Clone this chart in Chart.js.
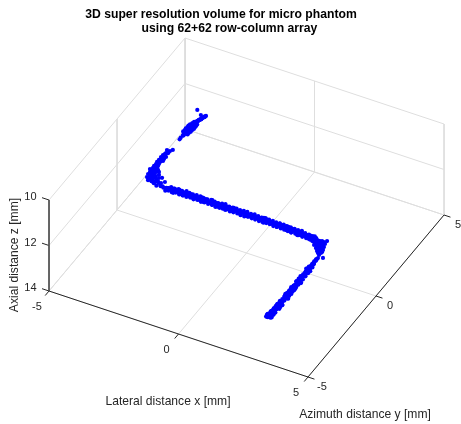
<!DOCTYPE html>
<html>
<head>
<meta charset="utf-8">
<title>3D super resolution volume</title>
<script src="https://cdn.jsdelivr.net/npm/chart.js@4"></script>
<style>
  html, body { margin: 0; padding: 0; background: #fff; }
  canvas { display: block; }
</style>
</head>
<body>
<canvas id="volumeChart" width="461" height="424"></canvas>
<script>
const xTicks = [-5, 0, 5];
const yTicks = [-5, 0, 5];
const zTicks = [10, 12, 14];

// microbubble localisations in mm, one group per stretch of the tube
const tipX = [-4.00,-4.02,-3.98,-4.03,-3.95,-4.05,-3.99,-4.07,-3.94,-4.04,-4.00,-3.93,-4.08,-3.97,-4.05,-3.95,-4.02,-3.92,-4.06,-4.00,-3.96,-4.03,-3.98,-4.04,-3.97,-4.01,-3.98,-4.00,-3.98,-4.00,-4.00,-4.00,
  -4.00,-4.01,-3.99,-4.00,-4.02,-3.99,-4.01,-4.00,-3.98,-4.00,-4.01,-3.99,-4.00,-4.02,-3.99,-4.00,-4.01,-3.99,-4.00,-4.01,-3.99,-4.00,-4.01,-4.00,-3.99,-4.00,-4.01,-4.00,-3.99,-4.00,
  -3.90,-4.10,-3.91,-4.09,-3.89,-4.11,-3.90,-4.10,-3.88,-4.09,-3.90,-4.11,-3.91,-4.08,-3.92,-4.07];
const tipY = [2.70,2.82,2.95,3.05,3.12,3.18,3.24,3.28,3.33,3.37,3.42,3.46,3.50,3.54,3.58,3.62,3.66,3.70,3.75,3.80,3.85,3.90,3.96,4.02,4.08,4.16,4.26,4.38,4.50,4.64,4.00,4.26,
  2.95,3.01,3.06,3.12,3.17,3.23,3.28,3.34,3.39,3.45,3.50,3.56,3.61,3.67,3.72,3.78,3.83,3.89,3.94,4.00,4.05,4.11,4.16,4.22,4.27,4.33,4.38,4.44,4.49,4.55,
  3.10,3.15,3.20,3.26,3.31,3.36,3.42,3.47,3.52,3.58,3.63,3.68,3.74,3.79,3.84,3.90];
const tipZ = [12.44,12.46,12.44,12.49,12.43,12.52,12.45,12.50,12.42,12.55,12.47,12.52,12.43,12.56,12.50,12.45,12.58,12.48,12.54,12.60,12.50,12.58,12.52,12.62,12.57,12.62,12.66,12.70,12.74,12.79,12.07,12.48,
  12.45,12.46,12.45,12.47,12.46,12.48,12.47,12.49,12.48,12.50,12.50,12.51,12.51,12.53,12.52,12.55,12.54,12.56,12.56,12.58,12.59,12.60,12.62,12.63,12.66,12.67,12.69,12.70,12.73,12.74,
  12.47,12.45,12.48,12.46,12.50,12.47,12.51,12.49,12.52,12.50,12.54,12.52,12.56,12.53,12.57,12.55];

const bendX = [-4,-4,-4,-4,-4,-4,-4,-4,-4,-4,-4,-4,-4,-4,-4,-4,-4,-4,-4,-4,-4,-4,-4,-4,-4,-4,-4,-4,-4,-4,-4,-4,-3.80,-3.61,-3.69,-3.49,-3.57,-3.42,-3.46,-3.34,-3.34,-3.22,-3.22,-3.11,-3.11,-3.65,
  -4,-4,-4,-4,-4,-4,-4,-4,-4,-4,-4,-4,-4,-4,-4,-4,-4,-4,-4,-4,-4,-4,-3.26,-3.15,-3.42,-3.30,-3.53,-3.38,-3.49,-3.61,-3.65,-3.73];
const bendY = [2.20,1.99,1.85,1.70,1.48,1.63,1.33,1.55,1.18,1.33,1.04,0.96,1.18,0.82,1.04,0.74,0.89,0.60,1.11,0.74,0.52,0.96,0.67,0.38,0.82,0.52,0.30,0.67,0.45,0.89,0.60,0.38,0.02,-0.03,0.04,0.00,-0.02,0.03,-0.04,0.01,0.05,-0.03,0.02,0.00,-0.05,0.03,
  0.52,0.74,0.96,1.18,0.52,0.89,1.11,1.26,1.40,1.63,1.85,1.77,1.48,1.70,0.96,1.18,0.74,0.60,0.85,1.00,1.35,1.60,0,0,0,0,0,0,0,0,0,0];
const bendZ = [12.55,12.45,12.39,12.33,12.26,12.41,12.24,12.48,12.26,12.41,12.25,12.29,12.44,12.27,12.47,12.30,12.45,12.29,12.65,12.44,12.32,12.64,12.47,12.31,12.62,12.45,12.39,12.61,12.54,12.80,12.69,12.58,12.23,12.15,12.27,12.15,12.27,12.22,12.32,12.27,12.36,12.27,12.36,12.32,12.40,12.04,
  12.50,12.61,12.81,12.92,12.19,12.32,12.48,12.41,12.33,12.32,12.44,12.25,12.52,12.50,12.51,12.79,12.40,12.42,12.38,12.36,12.32,12.33,11.93,12.07,12.13,12.17,12.21,11.98,12.07,12.07,12.21,12.16];

const runX = [-3.05,-3.00,-2.96,-2.91,-2.85,-2.80,-2.76,-2.70,-2.65,-2.60,-2.56,-2.50,-2.45,-2.41,-2.35,-2.30,-2.26,-2.20,-2.15,-2.10,-2.04,-2.00,-1.95,-1.89,-1.85,-1.80,-1.74,-1.70,-1.65,-1.60,-1.54,-1.50,-1.45,-1.41,-1.35,-1.30,-1.24,-1.20,-1.15,-1.09,-1.05,-1.00,-0.96,-0.90,-0.85,-0.80,-0.74,-0.70,-0.65,-0.59,-0.55,-0.50,-0.46,-0.40,-0.35,-0.30,-0.24,-0.20,-0.15,-0.09,-0.05,0.00,0.06,0.10,0.15,0.21,0.25,0.30,0.34,0.40,0.45,0.50,0.56,0.60,0.65,0.69,0.75,0.80,0.86,0.90,0.95,1.00,1.06,1.10,1.15,1.19,1.25,1.30,1.36,1.40,1.45,1.50,1.56,1.60,1.65,1.71,1.75,1.80,1.84,1.90,1.95,2.00,2.06,2.10,2.15,2.20,2.26,2.30,2.35,2.41,2.45,2.50,2.55,2.60,2.66,2.70,2.75,2.80,2.84,2.90];
const runY = [0.03,-0.05,0.06,-0.02,0.07,-0.06,0.01,0.05,-0.07,0.03,-0.03,0.06,0.00,-0.06,0.07,-0.02,0.04,-0.05,0.02,0.06,-0.07,0.03,0.05,-0.04,0.00,0.07,-0.06,0.02,-0.03,0.06,0.01,-0.07,0.04,-0.01,0.06,-0.05,0.03,0.07,-0.04,0.00,0.05,-0.06,0.02,-0.02,0.07,-0.05,0.04,0.00,-0.07,0.05,-0.01,0.03,0.06,-0.05,0.02,-0.03,0.07,-0.06,0.01,0.04,-0.04,0.06,-0.07,0.02,0.00,0.05,-0.05,0.07,-0.02,0.03,-0.06,0.01,0.06,-0.03,0.04,-0.07,0.05,0.00,-0.04,0.07,-0.01,0.03,-0.06,0.05,0.02,-0.05,0.06,-0.02,0.04,-0.07,0.01,0.07,-0.04,0.03,-0.01,0.05,-0.06,0.02,0.06,-0.03,0.00,-0.07,0.04,0.07,-0.05,0.01,0.03,-0.02,0.06,-0.06,0.04,0.00,-0.04,0.07,-0.03,0.02,0.05,-0.07,0.01,0.04];
const runZ = [12.32,12.26,12.35,12.24,12.30,12.37,12.25,12.33,12.28,12.23,12.36,12.30,12.26,12.34,12.22,12.31,12.37,12.27,12.24,12.33,12.29,12.37,12.23,12.31,12.35,12.26,12.30,12.22,12.36,12.28,12.33,12.25,12.37,12.30,12.23,12.34,12.27,12.31,12.37,12.24,12.29,12.35,12.26,12.32,12.22,12.37,12.28,12.33,12.25,12.30,12.36,12.23,12.31,12.27,12.35,12.24,12.32,12.37,12.26,12.29,12.34,12.23,12.31,12.36,12.26,12.30,12.24,12.35,12.28,12.33,12.25,12.37,12.29,12.32,12.24,12.36,12.27,12.31,12.25,12.35,12.30,12.38,12.26,12.33,12.29,12.37,12.27,12.32,12.39,12.28,12.34,12.30,12.38,12.27,12.35,12.31,12.40,12.29,12.34,12.37,12.30,12.41,12.33,12.28,12.38,12.35,12.43,12.31,12.37,12.41,12.34,12.45,12.38,12.33,12.43,12.40,12.47,12.36,12.42,12.46];

const coreX = [-3.10,-3.03,-2.96,-2.89,-2.82,-2.75,-2.68,-2.61,-2.54,-2.47,-2.40,-2.33,-2.26,-2.19,-2.12,-2.05,-1.98,-1.91,-1.84,-1.77,-1.70,-1.63,-1.56,-1.49,-1.42,-1.35,-1.28,-1.21,-1.14,-1.07,-1.00,-0.93,-0.86,-0.79,-0.72,-0.65,-0.58,-0.51,-0.44,-0.37,-0.30,-0.23,-0.16,-0.09,-0.02,0.05,0.12,0.19,0.26,0.33,0.40,0.47,0.54,0.61,0.68,0.75,0.82,0.89,0.96,1.03,1.10,1.17,1.24,1.31,1.38,1.45,1.52,1.59,1.66,1.73,1.80,1.87,1.94,2.01,2.08,2.15,2.22,2.29,2.36,2.43,2.50,2.57,2.64,2.71,2.78,2.85];
const coreY = [0.01,-0.01,0.00,0.02,-0.01,0.00,0.01,-0.02,0.00,0.01,0.02,-0.01,0.00,-0.02,0.01,0.00,0.02,-0.01,0.01,0.00,-0.02,0.01,0.00,0.01,-0.01,0.02,0.00,-0.01,0.01,0.00,-0.02,0.01,0.02,0.00,-0.01,0.01,0.00,-0.02,0.01,0.00,0.02,-0.01,0.00,0.01,-0.01,0.00,0.02,-0.02,0.01,0.00,-0.01,0.01,0.02,0.00,-0.01,0.00,0.01,-0.02,0.00,0.01,0.02,-0.01,0.00,0.01,-0.02,0.00,0.01,0.00,-0.01,0.02,0.00,0.01,-0.02,0.00,0.01,-0.01,0.00,0.02,0.00,-0.01,0.01,0.00,-0.02,0.01,0.00,0.01];
const coreZ = [12.31,12.29,12.30,12.32,12.30,12.28,12.31,12.30,12.29,12.32,12.30,12.31,12.28,12.30,12.32,12.29,12.30,12.31,12.29,12.32,12.30,12.28,12.31,12.30,12.32,12.29,12.30,12.31,12.28,12.30,12.32,12.30,12.29,12.31,12.30,12.28,12.32,12.30,12.31,12.29,12.30,12.32,12.28,12.30,12.31,12.29,12.30,12.32,12.30,12.28,12.31,12.30,12.29,12.32,12.30,12.31,12.29,12.30,12.32,12.30,12.31,12.29,12.32,12.31,12.30,12.33,12.31,12.32,12.34,12.32,12.33,12.35,12.33,12.34,12.36,12.35,12.37,12.36,12.38,12.40,12.39,12.41,12.43,12.42,12.45,12.46];

const edgeX = [-3.00,-2.93,-2.86,-2.79,-2.72,-2.65,-2.58,-2.51,-2.44,-2.37,-2.30,-2.23,-2.16,-2.09,-2.02,-1.95,-1.88,-1.81,-1.74,-1.67,-1.60,-1.53,-1.46,-1.39,-1.32,-1.25,-1.18,-1.11,-1.04,-0.97,-0.90,-0.83,-0.76,-0.69,-0.62,-0.55,-0.48,-0.41,-0.34,-0.27,-0.20,-0.13,-0.06,0.01,0.08,0.15,0.22,0.29,0.36,0.43,0.50,0.57,0.64,0.71,0.78,0.85,0.92,0.99,1.06,1.13,1.20,1.27,1.34,1.41,1.48,1.55,1.62,1.69,1.76,1.83,1.90,1.97,2.04,2.11,2.18,2.25,2.32,2.39,2.46,2.53,2.60,2.67,2.74];
const edgeY = [-0.04,0.04,-0.05,0.03,-0.03,0.05,-0.04,0.04,-0.05,0.03,-0.04,0.05,-0.03,0.04,-0.05,0.04,-0.03,0.05,-0.04,0.03,-0.05,0.04,-0.04,0.05,-0.03,0.04,-0.05,0.03,-0.04,0.05,-0.03,0.04,-0.05,0.04,-0.04,0.03,-0.05,0.05,-0.03,0.04,-0.04,0.05,-0.05,0.03,-0.04,0.04,-0.03,0.05,-0.05,0.04,-0.04,0.03,-0.05,0.05,-0.03,0.04,-0.04,0.05,-0.05,0.03,-0.04,0.04,-0.03,0.05,-0.05,0.04,-0.04,0.03,-0.05,0.05,-0.03,0.04,-0.04,0.05,-0.05,0.03,-0.04,0.04,-0.03,0.05,-0.05,0.04,-0.04];
const edgeZ = [12.36,12.24,12.37,12.25,12.35,12.23,12.37,12.24,12.36,12.25,12.38,12.23,12.36,12.24,12.37,12.25,12.36,12.23,12.38,12.24,12.35,12.25,12.37,12.23,12.36,12.24,12.38,12.25,12.36,12.23,12.37,12.24,12.35,12.25,12.38,12.23,12.36,12.24,12.37,12.25,12.36,12.23,12.38,12.24,12.35,12.25,12.37,12.23,12.36,12.24,12.38,12.25,12.36,12.23,12.37,12.24,12.36,12.25,12.38,12.25,12.37,12.26,12.39,12.25,12.38,12.27,12.40,12.26,12.39,12.28,12.41,12.28,12.42,12.30,12.43,12.30,12.44,12.32,12.46,12.34,12.47,12.36,12.49];

const cornerX = [2.68,2.80,2.88,2.99,3.11,2.61,2.72,2.84,2.95,3.03,2.68,2.80,2.92,2.99,3,3,3,3,3,3,3,3,3,3,2.76,2.88,2.64,2.92,2.76,2.88,2.80,2.92,2.53,2.45];
const cornerY = [0,0,0,0,0,0,0,0,0,0,0,0,0,0,-0.53,-0.31,-0.09,-0.46,-0.24,-0.09,-0.38,-0.60,-0.75,-0.46,0,0,0,0,0,0,0,0,0,0];
const cornerZ = [12.51,12.41,12.47,12.39,12.30,12.66,12.66,12.62,12.53,12.46,12.77,12.76,12.68,12.61,12.40,12.56,12.67,12.54,12.69,13.02,12.68,12.75,12.77,12.76,12.56,12.56,12.56,12.37,12.69,12.69,12.81,12.85,12.51,12.41];

const legX = [3.03,2.96,3.05,2.94,3.00,3.07,2.95,3.02,2.97,3.06,2.93,3.01,3.05,2.96,3.03,2.94,3.07,2.99,2.95,3.04,3.00,3.06,2.93,3.02,2.97,3.05,2.95,3.01,3.07,2.94,3.03,2.98,3.06,2.95,3.00,3.04,2.93,3.07,2.97,3.02,2.96,3.05,3.00,2.94,3.06,2.98,3.03,2.95,3.07,2.97,3.02,2.94,3.05,3.00,2.96,3.06,2.98,3.03,2.95,3.00,3.06,2.94,3.03,2.97,
  3.00,3.01,2.99,3.00,3.02,2.99,3.00,3.01,2.98,3.00,3.01,2.99,3.00,3.02,2.99,3.00,3.01,2.99,3.00,2.98,3.01,3.00,2.99,3.02,3.00,3.01,2.99,3.00,2.98,3.01,3.00,3.02,2.99,3.00,3.01,2.99,3.00,3.02,2.99,3.00,3.01,2.98,3.00,3.01,2.99,3.00,3.02,2.99,3.00,3.01,2.99,
  3.07,2.93,3.06,2.94,3.08,2.93,3.07,2.92,3.06,2.94,3.08,2.93,3.06,2.92,3.07,2.94,3.08,2.93,3.06,2.94,3.07,2.92,3.08,2.93,3.06,2.94,3.07,2.93,3.08,2.92,3.06,2.94,3.07,2.93,3.08,2.94,3.06,2.92,3.07,2.93];
const legY = [-0.60,-0.66,-0.71,-0.78,-0.83,-0.90,-0.95,-1.02,-1.07,-1.14,-1.19,-1.25,-1.31,-1.36,-1.43,-1.48,-1.55,-1.60,-1.66,-1.72,-1.78,-1.83,-1.90,-1.95,-2.02,-2.07,-2.14,-2.19,-2.25,-2.31,-2.37,-2.42,-2.49,-2.54,-2.61,-2.66,-2.72,-2.78,-2.84,-2.90,-2.95,-3.02,-3.07,-3.14,-3.19,-3.25,-3.31,-3.37,-3.43,-3.49,-3.55,-3.60,-3.67,-3.72,-3.79,-3.84,-3.90,-3.95,-4.02,-4.10,-3.98,-4.05,-3.92,-4.12,
  -0.60,-0.67,-0.74,-0.81,-0.88,-0.95,-1.02,-1.09,-1.16,-1.23,-1.30,-1.37,-1.44,-1.51,-1.58,-1.65,-1.72,-1.79,-1.86,-1.93,-2.00,-2.07,-2.14,-2.21,-2.28,-2.35,-2.42,-2.49,-2.56,-2.63,-2.70,-2.77,-2.84,-2.91,-2.98,-3.05,-3.12,-3.19,-3.26,-3.33,-3.40,-3.47,-3.54,-3.61,-3.68,-3.75,-3.82,-3.89,-3.96,-4.03,-4.10,
  -1.00,-1.08,-1.17,-1.25,-1.34,-1.42,-1.51,-1.59,-1.68,-1.76,-1.85,-1.93,-2.02,-2.10,-2.19,-2.27,-2.36,-2.44,-2.53,-2.61,-2.70,-2.78,-2.87,-2.95,-3.04,-3.12,-3.21,-3.29,-3.38,-3.46,-3.55,-3.63,-3.72,-3.80,-3.89,-3.97,-4.00,-4.06,-4.09,-4.14];
const legZ = [12.70,12.78,12.68,12.82,12.74,12.69,12.85,12.76,12.71,12.83,12.73,12.86,12.72,12.80,12.75,12.87,12.71,12.79,12.84,12.74,12.70,12.86,12.78,12.72,12.83,12.76,12.87,12.71,12.80,12.74,12.85,12.72,12.78,12.86,12.70,12.82,12.75,12.87,12.73,12.79,12.84,12.71,12.80,12.76,12.86,12.72,12.83,12.74,12.85,12.71,12.80,12.76,12.70,12.84,12.73,12.81,12.69,12.79,12.74,12.72,12.84,12.68,12.80,12.76,
  12.72,12.73,12.75,12.74,12.76,12.75,12.77,12.76,12.78,12.77,12.79,12.78,12.80,12.79,12.78,12.80,12.79,12.81,12.80,12.79,12.81,12.80,12.78,12.80,12.79,12.81,12.80,12.79,12.81,12.80,12.82,12.80,12.81,12.79,12.81,12.80,12.82,12.80,12.79,12.81,12.79,12.80,12.78,12.79,12.77,12.78,12.77,12.78,12.76,12.77,12.76,
  12.76,12.80,12.74,12.81,12.77,12.82,12.79,12.78,12.81,12.76,12.82,12.78,12.80,12.83,12.77,12.82,12.79,12.81,12.84,12.78,12.80,12.83,12.79,12.82,12.77,12.81,12.84,12.78,12.80,12.82,12.76,12.79,12.81,12.75,12.78,12.74,12.80,12.72,12.77,12.74];

// view of the box: where the z=14 floor corner lands and what one mm adds
const floorCorner = [49, 291];
const xStep = [25.9, 8.6];
const yStep = [13.6, -16.2];
const zStep = 22.75;

function project(x, y, z) {
  return {
    x: floorCorner[0] + (x + 5) * xStep[0] + (y + 5) * yStep[0],
    y: floorCorner[1] + (x + 5) * xStep[1] + (y + 5) * yStep[1] + (z - 14) * zStep
  };
}

function lineSet(a, b, color, width, order) {
  return {
    type: 'line',
    data: [project(...a), project(...b)],
    borderColor: color,
    borderWidth: width,
    pointRadius: 0,
    order: order
  };
}

const datasets = [];

// grid on the floor and the two back walls
const gridColor = '#dedede';
xTicks.forEach(x => {
  datasets.push(lineSet([x, -5, 14], [x, 5, 14], gridColor, 1, 3));
  datasets.push(lineSet([x, 5, 10], [x, 5, 14], gridColor, 1, 3));
});
yTicks.forEach(y => {
  datasets.push(lineSet([-5, y, 14], [5, y, 14], gridColor, 1, 3));
  datasets.push(lineSet([-5, y, 10], [-5, y, 14], gridColor, 1, 3));
});
zTicks.forEach(z => {
  datasets.push(lineSet([-5, 5, z], [5, 5, z], gridColor, 1, 3));
  datasets.push(lineSet([-5, -5, z], [-5, 5, z], gridColor, 1, 3));
});

// axis lines and their ticks
const axisColor = '#262626';
datasets.push(lineSet([-5, -5, 14], [5, -5, 14], axisColor, 1, 2));
datasets.push(lineSet([5, -5, 14], [5, 5, 14], axisColor, 1, 2));
datasets.push(lineSet([-5, -5, 10], [-5, -5, 14], '#555555', 1, 2));
xTicks.forEach(x => datasets.push(lineSet([x, -5, 14], [x, -5.28, 14], axisColor, 1, 2)));
yTicks.forEach(y => datasets.push(lineSet([5, y, 14], [5.25, y, 14], axisColor, 1, 2)));
zTicks.forEach(z => datasets.push(lineSet([-5, -5, z], [-5.27, -5, z], axisColor, 1, 2)));

const allX = [...tipX, ...bendX, ...runX, ...coreX, ...edgeX, ...cornerX, ...legX];
const allY = [...tipY, ...bendY, ...runY, ...coreY, ...edgeY, ...cornerY, ...legY];
const allZ = [...tipZ, ...bendZ, ...runZ, ...coreZ, ...edgeZ, ...cornerZ, ...legZ];

datasets.push({
  label: 'Localisations',
  data: allX.map((x, i) => project(x, allY[i], allZ[i])),
  backgroundColor: '#0000ff',
  borderWidth: 0,
  pointRadius: 2.1,
  order: 1
});

const textPlugin = {
  id: 'boxText',
  afterDraw(chart) {
    const ctx = chart.ctx;
    const sx = chart.scales.x;
    const sy = chart.scales.y;
    const put = (text, x, y, align) => {
      ctx.textAlign = align || 'center';
      ctx.fillText(text, x, y);
    };
    const tickPos = (p, dx, dy) => [sx.getPixelForValue(p.x) + dx, sy.getPixelForValue(p.y) + dy];

    ctx.save();
    ctx.textBaseline = 'middle';
    ctx.fillStyle = '#000';
    ctx.font = 'bold 12.2px "Liberation Sans"';
    put('3D super resolution volume for micro phantom', 221, 15);
    put('     using 62+62 row-column array', 221, 29);

    ctx.fillStyle = '#262626';
    ctx.font = '11px "Liberation Sans"';
    xTicks.forEach(x => {
      const [px, py] = tickPos(project(x, -5, 14), -12, 15.5);
      put(String(x), px, py);
    });
    yTicks.forEach(y => {
      const [px, py] = tickPos(project(5, y, 14), 14, 10);
      put(String(y), px, py);
    });
    zTicks.forEach(z => {
      const [px, py] = tickPos(project(-5, -5, z), -12.5, -3);
      put(String(z), px, py, 'right');
    });

    ctx.font = '12.1px "Liberation Sans"';
    put('Lateral distance x [mm]', 168, 402);
    put('Azimuth distance y [mm]', 365, 415);
    ctx.translate(15, 255);
    ctx.rotate(-Math.PI / 2);
    put('Axial distance z [mm]', 0, 0);
    ctx.restore();
  }
};

new Chart(document.getElementById('volumeChart').getContext('2d'), {
  type: 'scatter',
  data: { datasets: datasets },
  options: {
    responsive: false,
    animation: false,
    layout: { padding: 0, autoPadding: false },
    plugins: {
      legend: { display: false },
      tooltip: { enabled: false }
    },
    scales: {
      x: { type: 'linear', min: 0, max: 461, display: false },
      y: { type: 'linear', min: 0, max: 424, reverse: true, display: false }
    }
  },
  plugins: [textPlugin]
});
</script>
</body>
</html>
